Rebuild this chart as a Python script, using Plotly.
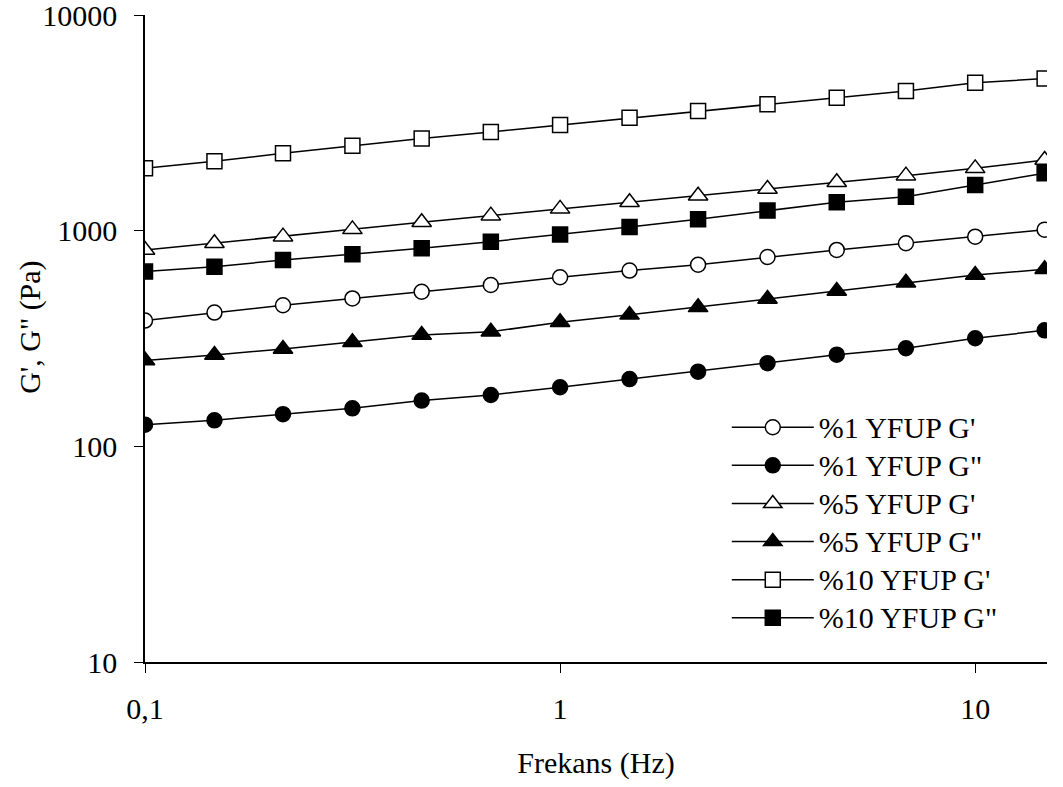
import plotly.graph_objects as go

freq = [0.1, 0.147, 0.215, 0.316, 0.464, 0.681, 1.0, 1.47, 2.15, 3.16, 4.64, 6.81, 10.0, 14.7]

g1_storage = [383, 417, 451, 485, 521, 560, 608, 653, 695, 755, 814, 874, 938, 1011]
g1_loss = [126, 132, 141, 150, 163, 173, 188, 205, 222, 243, 266, 285, 317, 345]
g5_storage = [814, 874, 938, 1014, 1094, 1174, 1262, 1355, 1452, 1561, 1677, 1799, 1945, 2128]
g5_loss = [250, 265, 283, 304, 328, 340, 376, 407, 441, 482, 525, 574, 623, 662]
g10_storage = [1945, 2098, 2285, 2478, 2672, 2870, 3090, 3342, 3589, 3855, 4137, 4443, 4853, 5070]
g10_loss = [646, 681, 731, 777, 828, 889, 960, 1040, 1130, 1239, 1355, 1438, 1629, 1846]

series_names = ["%1 YFUP G'", '%1 YFUP G"', "%5 YFUP G'", '%5 YFUP G"', "%10 YFUP G'", '%10 YFUP G"']
series_values = [g1_storage, g1_loss, g5_storage, g5_loss, g10_storage, g10_loss]
symbols = ["circle", "circle", "triangle-up", "triangle-up", "square", "square"]
fills = ["white", "black", "white", "black", "white", "black"]
sizes = [15, 15, 17, 17, 15, 15]

x_tickvals = [0.1, 1, 10]
x_ticktext = ["0,1", "1", "10"]
y_tickvals = [10, 100, 1000, 10000]
y_ticktext = ["10", "100", "1000", "10000"]

FONT = "Liberation Serif, Times New Roman, serif"

fig = go.Figure()
for i, (name, vals) in enumerate(zip(series_names, series_values)):
    fig.add_trace(go.Scatter(
        x=freq, y=vals,
        name=f'<span style="font-size:30px">{name}</span>',
        mode="lines+markers",
        line=dict(color="black", width=1.5),
        marker=dict(symbol=symbols[i], size=sizes[i], color=fills[i],
                    line=dict(color="black", width=1.5)),
    ))

fig.update_layout(
    width=1063, height=787,
    paper_bgcolor="white", plot_bgcolor="white",
    margin=dict(l=145, r=16, t=15, b=125),
    font=dict(family=FONT, size=30, color="black"),
    showlegend=True,
    legend=dict(
        x=0.645, y=0.40, xanchor="left", yanchor="top",
        bgcolor="rgba(0,0,0,0)",
        font=dict(family=FONT, size=27, color="black"),
        tracegroupgap=0,
        itemwidth=82,
    ),
    annotations=[dict(
        text="G', G\" (Pa)", textangle=-90,
        xref="paper", yref="paper", x=-0.1275, y=0.518,
        xanchor="center", yanchor="middle", showarrow=False,
        font=dict(family=FONT, size=30, color="black"),
    )],
)
fig.update_xaxes(
    type="log", range=[-1, 1.173],
    tickvals=x_tickvals, ticktext=x_ticktext,
    showline=True, linecolor="black", linewidth=1.5,
    ticks="outside", ticklen=9, tickwidth=1.2, tickcolor="black",
    showgrid=False, zeroline=False, automargin=False,
    ticklabelstandoff=10, ticklabeloverflow="allow",
    title=dict(text="Frekans (Hz)", font=dict(family=FONT, size=30), standoff=28),
)
fig.update_yaxes(
    type="log", range=[1, 4],
    tickvals=y_tickvals, ticktext=y_ticktext,
    showline=True, linecolor="black", linewidth=1.5,
    ticks="outside", ticklen=9, tickwidth=1.2, tickcolor="black",
    showgrid=False, zeroline=False, automargin=False,
    ticklabelstandoff=11, ticklabeloverflow="allow",
)

fig.write_html(
    "out.html",
    config={"displayModeBar": False},
    post_script="document.body.style.margin='0';document.body.style.overflow='hidden';",
)
